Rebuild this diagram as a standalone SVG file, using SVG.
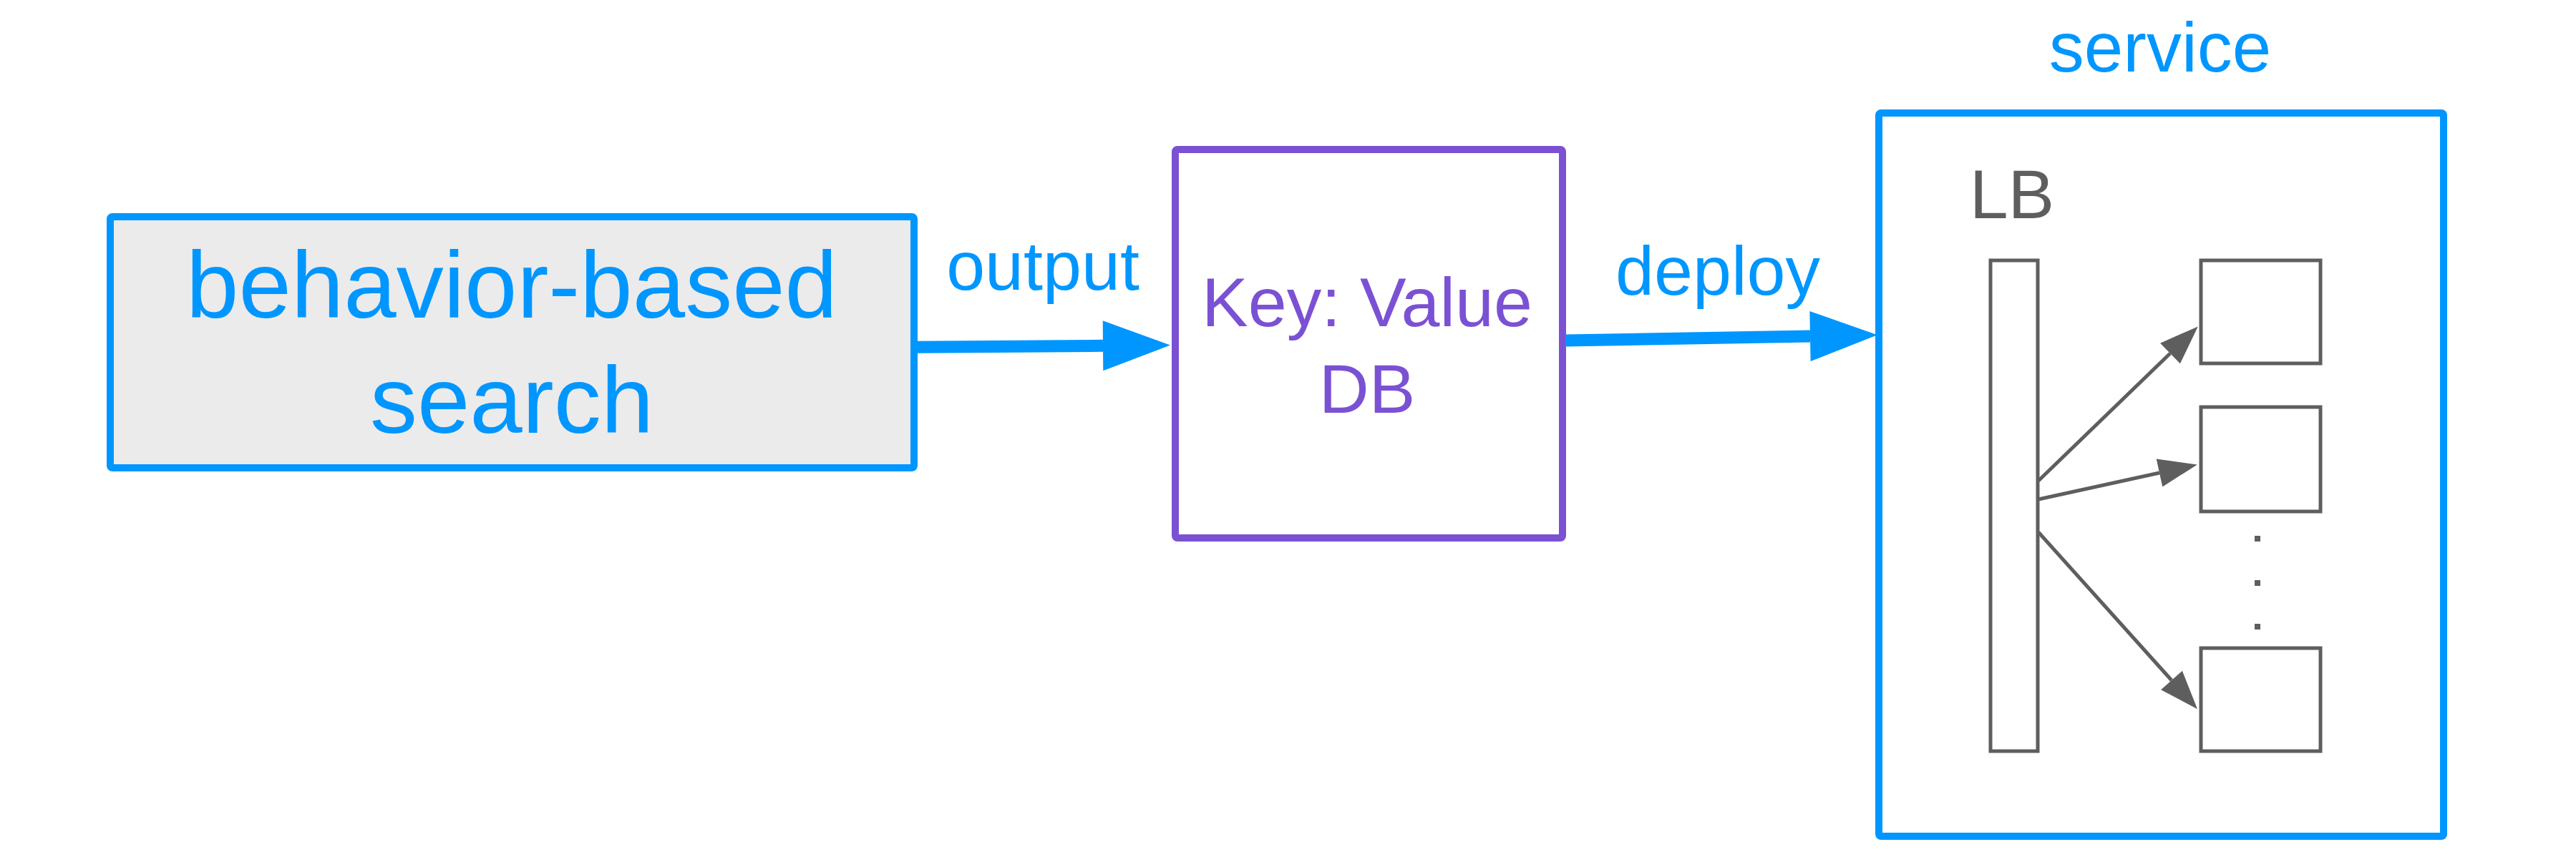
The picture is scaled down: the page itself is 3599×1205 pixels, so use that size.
<svg xmlns="http://www.w3.org/2000/svg" width="3599" height="1205" viewBox="0 0 3599 1205">
<style>
.t{font-family:"Liberation Sans",Arial,sans-serif;text-anchor:middle}
.tb{fill:#0096FF}
.tp{fill:#7B51D4}
.tg{fill:#5E5E5E}
.g{fill:#fff;stroke:#5E5E5E;stroke-width:5}
.bl{stroke:#0096FF;stroke-width:17;fill:none}
.gl{stroke:#5E5E5E;stroke-width:5;fill:none}
</style>
<defs>
<marker id="ab" markerUnits="userSpaceOnUse" markerWidth="100" markerHeight="80" refX="0" refY="40" orient="auto" overflow="visible">
<path d="M0,5 L94,40 L0,75 z" fill="#0096FF"/>
</marker>
<marker id="ag" markerUnits="userSpaceOnUse" markerWidth="60" markerHeight="44" refX="0" refY="22" orient="auto" overflow="visible">
<path d="M0,2 L54,22 L0,42 z" fill="#5E5E5E"/>
</marker>
</defs>
<rect width="3599" height="1205" fill="#fff"/>
<g id="search">
<rect x="154" y="303" width="1123" height="351" rx="3" fill="#EBEBEB" stroke="#0096FF" stroke-width="10"/>
<text class="t tb" x="715" y="444" font-size="132">behavior-based</text>
<text class="t tb" x="715" y="605" font-size="132">search</text>
</g>
<g id="kvdb">
<rect x="1642" y="209" width="541" height="543" rx="3" fill="#fff" stroke="#7B51D4" stroke-width="10"/>
<text class="t tp" x="1910" y="456" font-size="97">Key: Value</text>
<text class="t tp" x="1910" y="577" font-size="97">DB</text>
</g>
<g id="service">
<rect x="2625" y="158" width="789" height="1011" rx="3" fill="#fff" stroke="#0096FF" stroke-width="10"/>
<text class="t tb" x="3018" y="100" font-size="98">service</text>
</g>
<g id="lb">
<text class="t tg" x="2811" y="305" font-size="97">LB</text>
<rect class="g" x="2781" y="364" width="66" height="686"/>
</g>
<g id="server1"><rect class="g" x="3075" y="364" width="167" height="144"/></g>
<g id="server2"><rect class="g" x="3075" y="569" width="167" height="146"/></g>
<g id="server3"><rect class="g" x="3075" y="906" width="167" height="144"/></g>
<g id="dots" fill="#5E5E5E">
<rect x="3150" y="749" width="8" height="8"/>
<rect x="3150" y="811" width="8" height="8"/>
<rect x="3150" y="872" width="8" height="8"/>
</g>
<g id="connectors">
<line class="bl" x1="1282" y1="485.3" x2="1541" y2="483.3" marker-end="url(#ab)"/>
<text class="t tb" x="1457" y="405" font-size="97">output</text>
<line class="bl" x1="2187" y1="476" x2="2529" y2="470" marker-end="url(#ab)"/>
<text class="t tb" x="2400" y="412" font-size="97">deploy</text>
<line class="gl" x1="2848" y1="672" x2="3032" y2="494" marker-end="url(#ag)"/>
<line class="gl" x1="2848" y1="698" x2="3017" y2="661" marker-end="url(#ag)"/>
<line class="gl" x1="2848" y1="744" x2="3034" y2="951" marker-end="url(#ag)"/>
</g>
</svg>
